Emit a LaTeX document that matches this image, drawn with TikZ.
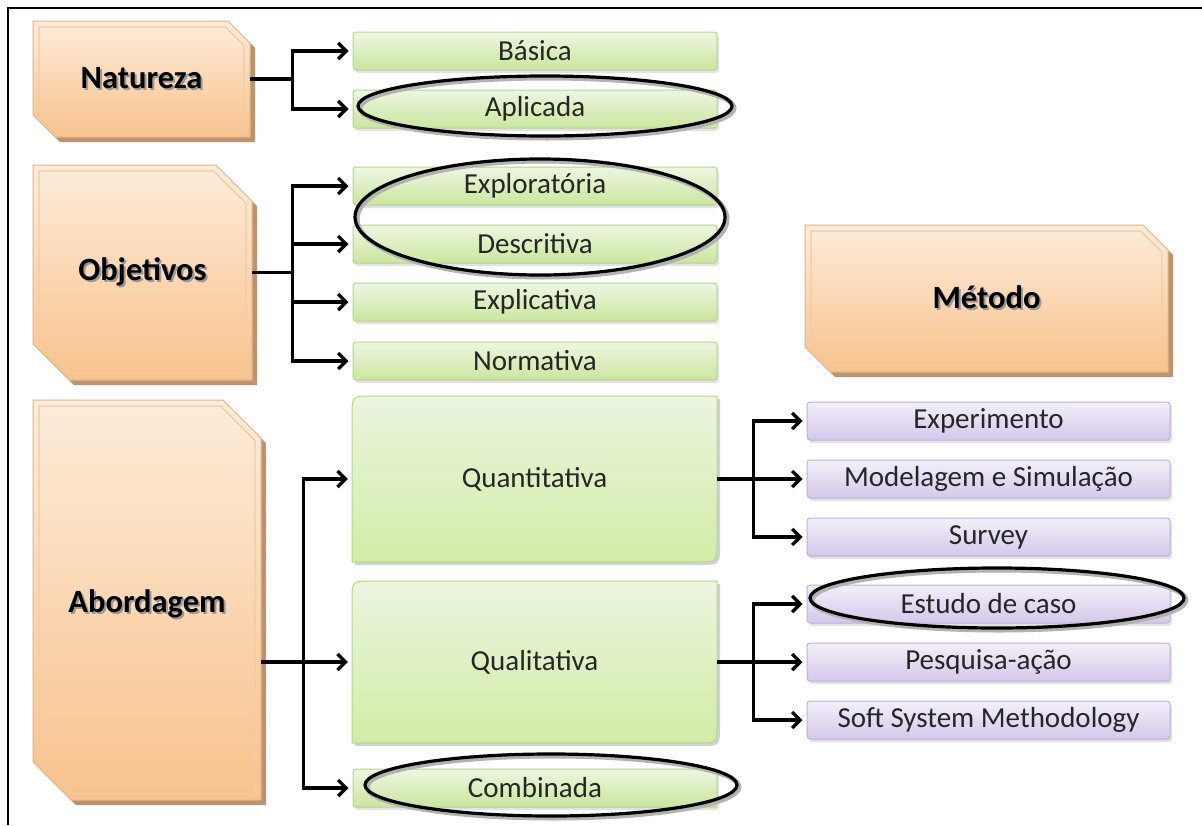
\documentclass[tikz,border=0pt]{standalone}
\usepackage{fontspec}
\setmainfont{Carlito}
\usetikzlibrary{shadows,arrows.meta,calc}
\definecolor{orTop}{HTML}{FDECDA}
\definecolor{orBot}{HTML}{F8C28C}
\definecolor{orEdge}{HTML}{E2B285}
\definecolor{orShadow}{HTML}{A8703F}
\definecolor{orInset}{HTML}{F0CCA4}
\definecolor{gTop}{HTML}{EDF6E2}
\definecolor{gBot}{HTML}{CBE69F}
\definecolor{gEdge}{HTML}{B5D68B}
\definecolor{gbTop}{HTML}{EBF5DF}
\definecolor{gbBot}{HTML}{D2ECA6}
\definecolor{pTop}{HTML}{F3EFF9}
\definecolor{pBot}{HTML}{D4C8EA}
\definecolor{pEdge}{HTML}{BEB0DA}
\definecolor{txt}{HTML}{262626}
\newcommand\shadowtext[1]{\makebox[0pt][l]{\hspace{2pt}\raisebox{-2pt}{\textcolor{black!40}{#1}}}#1}
% orange chamfered box: x0,y0,x1,y1,chamfer
\newcommand\orbox[5]{%
  \fill[orShadow,opacity=.75] (#1+5,#2+5) -- (#3-#5+5,#2+5) -- (#3+5,#2+#5+5) -- (#3+5,#4+5) -- (#1+#5+5,#4+5) -- (#1+5,#4-#5+5) -- cycle;
  \shade[top color=orTop,bottom color=orBot,draw=orEdge,line width=1pt] (#1,#2) -- (#3-#5,#2) -- (#3,#2+#5) -- (#3,#4) -- (#1+#5,#4) -- (#1,#4-#5) -- cycle;
  \draw[orInset,line width=1.2pt] (#1+6,#2+6) -- (#3-#5-2.5,#2+6) -- (#3-6,#2+#5+2.5) -- (#3-6,#4-6) -- (#1+#5+2.5,#4-6) -- (#1+6,#4-#5-2.5) -- cycle;
}
% big green box with two rounded corners: x0,y0,x1,y1
\newcommand\bigbox[4]{%
  \fill[black,opacity=.18] (#1+3,#4+3) -- (#1+3,#2+23) .. controls (#1+3,#2+3) .. (#1+23,#2+3) -- (#3+3,#2+3) -- (#3+3,#4-17) .. controls (#3+3,#4+3) .. (#3-17,#4+3) -- cycle;
  \shade[top color=gbTop,bottom color=gbBot,draw=gEdge,line width=1pt] (#1,#4) -- (#1,#2+20) .. controls (#1,#2) .. (#1+20,#2) -- (#3,#2) -- (#3,#4-20) .. controls (#3,#4) .. (#3-20,#4) -- cycle;
}
\begin{document}
\begin{tikzpicture}[x=1pt,y=-1pt,
  head/.style={draw=none,inner sep=0pt,font=\fontsize{32.5}{37}\selectfont\bfseries,text=black},
  gbox/.style={draw=gEdge,line width=1pt,top color=gTop,bottom color=gBot,rounded corners=3pt,
    minimum width=364pt,minimum height=38pt,inner sep=0pt,
    drop shadow={shadow xshift=2pt,shadow yshift=-3pt,opacity=.22},
    font=\fontsize{29}{33}\selectfont,text=txt},
  pbox/.style={gbox,draw=pEdge,top color=pTop,bottom color=pBot,minimum width=363pt},
  bigtxt/.style={draw=none,inner sep=0pt,minimum width=365pt,font=\fontsize{29}{33}\selectfont,text=txt},
  conn/.style={line width=3.3pt,black},
  arr/.style={conn,-{Straight Barb[length=8pt,width=16pt]},shorten >=4pt},
  ring/.style={line width=3.2pt,black},
  ringsh/.style={line width=5pt,black!30}
]
\useasboundingbox (0,0) rectangle (1202,825);
\fill[white] (0,0) rectangle (1202,825);
\draw[line width=2pt] (8,825) -- (8,8) -- (1202,8);

% orange boxes
\orbox{33}{21}{250}{137}{22}
\orbox{33}{165}{252}{380}{36}
\orbox{33}{400}{261}{800}{38}
\orbox{805}{225}{1168}{372}{25}
\node[head,minimum width=217pt,minimum height=116pt] (natureza) at (141.5,79) {\shadowtext{Natureza}};
\node[head,minimum width=219pt,minimum height=215pt] (objetivos) at (142.5,272.5) {\shadowtext{Objetivos}};
\node[head,minimum width=228pt,minimum height=400pt] (abordagem) at (147,605) {\shadowtext{Abordagem}};
\node[head,minimum width=363pt,minimum height=147pt] (metodo) at (986.5,298.5) {\shadowtext{Método}};

% green boxes
\node[gbox] (basica) at (535,51) {Básica};
\node[gbox] (aplicada) at (535,109) {Aplicada};
\node[gbox] (explor) at (535,186) {Exploratória};
\node[gbox] (descr) at (535,244) {Descritiva};
\node[gbox] (explic) at (535,302) {Explicativa};
\node[gbox] (norm) at (535,361) {Normativa};
\node[gbox] (comb) at (535,788) {Combinada};

\bigbox{352}{396}{717}{562}
\bigbox{352}{581}{717}{743}
\node[bigtxt,minimum height=166pt] (quanti) at (534.5,479) {Quantitativa};
\node[bigtxt,minimum height=162pt] (quali) at (534.5,662) {Qualitativa};

% purple boxes
\node[pbox] (exper) at (988.5,421) {Experimento};
\node[pbox] (model) at (988.5,479) {Modelagem e Simulação};
\node[pbox] (survey) at (988.5,537) {Survey};
\node[pbox] (estudo) at (988.5,604) {Estudo de caso};
\node[pbox] (pesq) at (988.5,662) {Pesquisa-ação};
\node[pbox] (soft) at (988.5,720) {Soft System Methodology};

% connectors
\coordinate (jn) at ($(natureza.east)+(42,0)$);
\draw[conn] (natureza.east) -- (jn);
\draw[arr] (jn) |- (basica.west);
\draw[arr] (jn) |- (aplicada.west);

\coordinate (jo) at ($(objetivos.east)+(40,0)$);
\draw[conn] (objetivos.east) -- (jo);
\draw[arr] (jo) |- (explor.west);
\draw[arr] (jo) |- (descr.west);
\draw[arr] (jo) |- (explic.west);
\draw[arr] (jo) |- (norm.west);

\coordinate (ja) at ($(abordagem.east |- quali.west)+(42,0)$);
\draw[arr] (abordagem.east |- quali.west) -- (quali.west);
\draw[arr] (ja) |- (quanti.west);
\draw[arr] (ja) |- (comb.west);

\coordinate (jq) at ($(quanti.east)+(36,0)$);
\draw[conn] (quanti.east) -- (jq);
\draw[arr] (jq) |- (exper.west);
\draw[arr] (jq) -- (model.west);
\draw[arr] (jq) |- (survey.west);

\coordinate (jl) at ($(quali.east)+(36,0)$);
\draw[conn] (quali.east) -- (jl);
\draw[arr] (jl) |- (estudo.west);
\draw[arr] (jl) -- (pesq.west);
\draw[arr] (jl) |- (soft.west);

% highlight ellipses
\draw[ringsh] (547,108) ellipse [x radius=187,y radius=30];
\draw[ring] (545,106) ellipse [x radius=187,y radius=30];
\draw[ringsh] (542,219) ellipse [x radius=185,y radius=58];
\draw[ring] (540,217) ellipse [x radius=185,y radius=58];
\draw[ringsh] (999,600) ellipse [x radius=187,y radius=30];
\draw[ring] (997,598) ellipse [x radius=187,y radius=30];
\draw[ringsh] (553,787) ellipse [x radius=186,y radius=31];
\draw[ring] (551,785) ellipse [x radius=186,y radius=31];
\end{tikzpicture}
\end{document}
